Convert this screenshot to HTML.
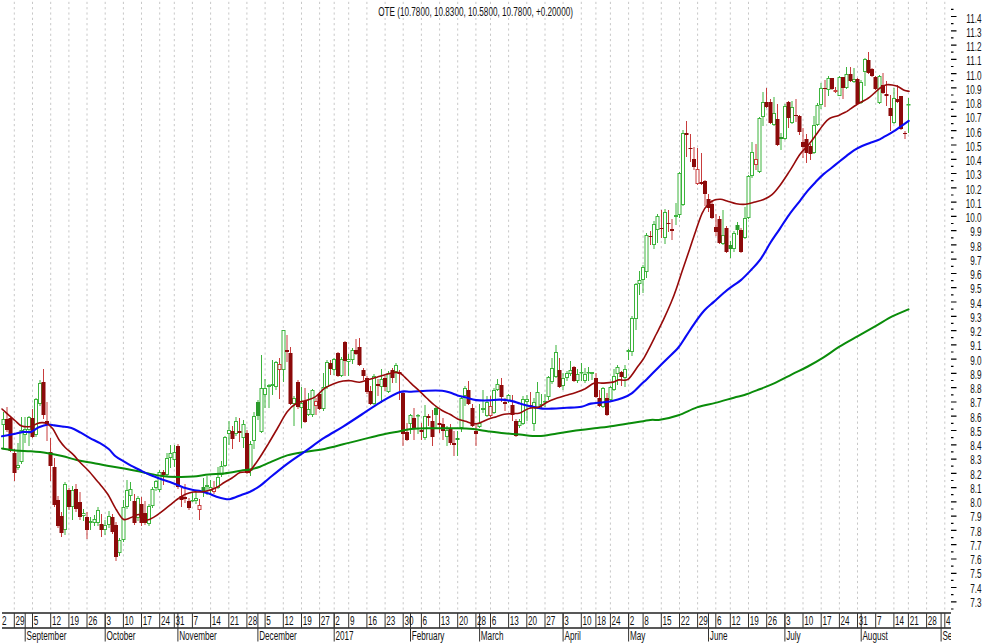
<!DOCTYPE html><html><head><meta charset="utf-8"><style>html,body{margin:0;padding:0;background:#fff;}svg{display:block;font-family:"Liberation Sans",sans-serif;}</style></head><body>
<svg width="986" height="644" viewBox="0 0 986 644">
<rect width="986" height="644" fill="#fff"/>
<path d="M14.3 1.8V611M32.5 1.8V611M50.7 1.8V611M68.9 1.8V611M87.0 1.8V611M105.2 1.8V611M123.4 1.8V611M141.5 1.8V611M159.7 1.8V611M174.3 1.8V611M192.4 1.8V611M210.6 1.8V611M228.8 1.8V611M246.9 1.8V611M265.1 1.8V611M283.3 1.8V611M301.5 1.8V611M319.6 1.8V611M334.2 1.8V611M348.7 1.8V611M366.9 1.8V611M385.1 1.8V611M403.2 1.8V611M421.4 1.8V611M439.6 1.8V611M457.7 1.8V611M475.9 1.8V611M490.5 1.8V611M508.6 1.8V611M526.8 1.8V611M545.0 1.8V611M563.1 1.8V611M581.3 1.8V611M595.9 1.8V611M610.4 1.8V611M628.6 1.8V611M643.1 1.8V611M661.3 1.8V611M679.5 1.8V611M697.6 1.8V611M715.8 1.8V611M730.3 1.8V611M748.5 1.8V611M766.7 1.8V611M784.9 1.8V611M803.0 1.8V611M821.2 1.8V611M839.4 1.8V611M857.5 1.8V611M875.7 1.8V611M893.9 1.8V611M908.4 1.8V611M926.6 1.8V611M944.8 1.8V611" stroke="#c8c8c8" stroke-width="1" stroke-dasharray="2.2 3.113" fill="none"/>
<path d="M951 16.5H956.5M951 30.8H956.5M951 45.1H956.5M951 59.3H956.5M951 73.6H956.5M951 87.9H956.5M951 102.2H956.5M951 116.4H956.5M951 130.7H956.5M951 145.0H956.5M951 159.3H956.5M951 173.5H956.5M951 187.8H956.5M951 202.1H956.5M951 216.4H956.5M951 230.6H956.5M951 244.9H956.5M951 259.2H956.5M951 273.5H956.5M951 287.7H956.5M951 302.0H956.5M951 316.3H956.5M951 330.6H956.5M951 344.8H956.5M951 359.1H956.5M951 373.4H956.5M951 387.7H956.5M951 402.0H956.5M951 416.2H956.5M951 430.5H956.5M951 444.8H956.5M951 459.1H956.5M951 473.3H956.5M951 487.6H956.5M951 501.9H956.5M951 516.2H956.5M951 530.4H956.5M951 544.7H956.5M951 559.0H956.5M951 573.3H956.5M951 587.5H956.5M951 601.8H956.5M951 9.4H953.5M951 23.6H953.5M951 37.9H953.5M951 52.2H953.5M951 66.5H953.5M951 80.7H953.5M951 95.0H953.5M951 109.3H953.5M951 123.6H953.5M951 137.8H953.5M951 152.1H953.5M951 166.4H953.5M951 180.7H953.5M951 195.0H953.5M951 209.2H953.5M951 223.5H953.5M951 237.8H953.5M951 252.1H953.5M951 266.3H953.5M951 280.6H953.5M951 294.9H953.5M951 309.2H953.5M951 323.4H953.5M951 337.7H953.5M951 352.0H953.5M951 366.3H953.5M951 380.5H953.5M951 394.8H953.5M951 409.1H953.5M951 423.4H953.5M951 437.6H953.5M951 451.9H953.5M951 466.2H953.5M951 480.5H953.5M951 494.7H953.5M951 509.0H953.5M951 523.3H953.5M951 537.6H953.5M951 551.8H953.5M951 566.1H953.5M951 580.4H953.5M951 594.7H953.5M951 609.0H953.5" stroke="#000" stroke-width="1.2" fill="none"/>
<g transform="translate(981.5,0) scale(0.68,1)" font-size="12" fill="#111" text-anchor="end"><text x="0" y="22.7">11.4</text><text x="0" y="36.9">11.3</text><text x="0" y="51.2">11.2</text><text x="0" y="65.4">11.1</text><text x="0" y="79.7">11.0</text><text x="0" y="93.9">10.9</text><text x="0" y="108.2">10.8</text><text x="0" y="122.4">10.7</text><text x="0" y="136.7">10.6</text><text x="0" y="150.9">10.5</text><text x="0" y="165.2">10.4</text><text x="0" y="179.4">10.3</text><text x="0" y="193.7">10.2</text><text x="0" y="207.9">10.1</text><text x="0" y="222.2">10.0</text><text x="0" y="236.4">9.9</text><text x="0" y="250.6">9.8</text><text x="0" y="264.9">9.7</text><text x="0" y="279.1">9.6</text><text x="0" y="293.4">9.5</text><text x="0" y="307.6">9.4</text><text x="0" y="321.9">9.3</text><text x="0" y="336.1">9.2</text><text x="0" y="350.4">9.1</text><text x="0" y="364.6">9.0</text><text x="0" y="378.9">8.9</text><text x="0" y="393.1">8.8</text><text x="0" y="407.4">8.7</text><text x="0" y="421.6">8.6</text><text x="0" y="435.9">8.5</text><text x="0" y="450.1">8.4</text><text x="0" y="464.3">8.3</text><text x="0" y="478.6">8.2</text><text x="0" y="492.8">8.1</text><text x="0" y="507.1">8.0</text><text x="0" y="521.3">7.9</text><text x="0" y="535.6">7.8</text><text x="0" y="549.8">7.7</text><text x="0" y="564.1">7.6</text><text x="0" y="578.3">7.5</text><text x="0" y="592.6">7.4</text><text x="0" y="606.8">7.3</text></g>
<path d="M2 613H951M2 628H951" stroke="#222" stroke-width="1.3" fill="none"/>
<path d="M14.3 613V628M32.5 613V628M50.7 613V628M68.9 613V628M87.0 613V628M105.2 613V628M123.4 613V628M141.5 613V628M159.7 613V628M174.3 613V628M192.4 613V628M210.6 613V628M228.8 613V628M246.9 613V628M265.1 613V628M283.3 613V628M301.5 613V628M319.6 613V628M334.2 613V628M348.7 613V628M366.9 613V628M385.1 613V628M403.2 613V628M421.4 613V628M439.6 613V628M457.7 613V628M475.9 613V628M490.5 613V628M508.6 613V628M526.8 613V628M545.0 613V628M563.1 613V628M581.3 613V628M595.9 613V628M610.4 613V628M628.6 613V628M643.1 613V628M661.3 613V628M679.5 613V628M697.6 613V628M715.8 613V628M730.3 613V628M748.5 613V628M766.7 613V628M784.9 613V628M803.0 613V628M821.2 613V628M839.4 613V628M857.5 613V628M875.7 613V628M893.9 613V628M908.4 613V628M926.6 613V628M944.8 613V628M25.2 613V641.5M105.2 613V641.5M177.9 613V641.5M257.9 613V641.5M334.2 613V641.5M410.5 613V641.5M479.6 613V641.5M563.1 613V641.5M628.6 613V641.5M708.5 613V641.5M784.9 613V641.5M861.2 613V641.5M941.1 613V641.5" stroke="#333" stroke-width="1" fill="none"/>
<svg x="0" y="600" width="951" height="44" viewBox="0 600 951 44"><g transform="scale(0.68,1)" font-size="12" fill="#111"><text x="2.8" y="625">2</text><text x="22.9" y="625">29</text><text x="49.6" y="625">5</text><text x="76.3" y="625">12</text><text x="103.0" y="625">19</text><text x="129.8" y="625">26</text><text x="156.5" y="625">3</text><text x="183.2" y="625">10</text><text x="209.9" y="625">17</text><text x="236.6" y="625">24</text><text x="258.0" y="625">31</text><text x="284.7" y="625">7</text><text x="311.5" y="625">14</text><text x="338.2" y="625">21</text><text x="364.9" y="625">28</text><text x="391.6" y="625">5</text><text x="418.4" y="625">12</text><text x="445.1" y="625">19</text><text x="471.8" y="625">27</text><text x="493.2" y="625">2</text><text x="514.6" y="625">9</text><text x="541.3" y="625">16</text><text x="568.0" y="625">23</text><text x="594.7" y="625">30</text><text x="621.5" y="625">6</text><text x="648.2" y="625">13</text><text x="674.9" y="625">20</text><text x="701.6" y="625">28</text><text x="723.0" y="625">6</text><text x="749.7" y="625">13</text><text x="776.5" y="625">20</text><text x="803.2" y="625">27</text><text x="829.9" y="625">3</text><text x="856.6" y="625">10</text><text x="878.0" y="625">18</text><text x="899.4" y="625">24</text><text x="926.1" y="625">2</text><text x="947.5" y="625">8</text><text x="974.2" y="625">15</text><text x="1001.0" y="625">22</text><text x="1027.7" y="625">29</text><text x="1054.4" y="625">6</text><text x="1075.8" y="625">12</text><text x="1102.5" y="625">19</text><text x="1129.2" y="625">26</text><text x="1156.0" y="625">3</text><text x="1182.7" y="625">10</text><text x="1209.4" y="625">17</text><text x="1236.1" y="625">24</text><text x="1262.9" y="625">31</text><text x="1289.6" y="625">7</text><text x="1316.3" y="625">14</text><text x="1337.7" y="625">21</text><text x="1364.4" y="625">28</text><text x="1391.1" y="625">4</text><text x="39.0" y="640">September</text><text x="156.6" y="640">October</text><text x="263.5" y="640">November</text><text x="381.1" y="640">December</text><text x="493.3" y="640">2017</text><text x="605.6" y="640">February</text><text x="707.1" y="640">March</text><text x="830.1" y="640">April</text><text x="926.3" y="640">May</text><text x="1043.9" y="640">June</text><text x="1156.1" y="640">July</text><text x="1268.3" y="640">August</text><text x="1385.9" y="640">September</text></g></svg>
<rect x="377" y="5" width="198" height="12.5" fill="#fff"/>
<g transform="translate(475.6,0) scale(0.68,1)" font-size="12" fill="#111" text-anchor="middle"><text x="0" y="15.8">OTE (10.7800, 10.8300, 10.5800, 10.7800, +0.20000)</text></g>
<path d="M3.5 412.0V419.0M3.5 425.0V448.0M18.0 443.0V465.0M18.0 468.0V470.0M21.5 417.0V430.0M21.5 462.0V464.0M25.0 417.0V429.0M25.0 435.0V443.0M29.0 416.0V417.0M29.0 430.0V446.0M36.0 398.0V399.0M36.0 435.0V437.0M40.0 380.0V383.0M40.0 404.0V406.0M65.0 482.0V484.0M65.0 530.0V535.0M72.5 486.0V490.0M72.5 507.0V520.0M83.5 509.0V513.0M83.5 516.0V521.0M90.5 517.0V521.0M90.5 523.0V530.0M94.5 515.0V519.0M94.5 523.0V526.0M98.0 507.0V510.0M98.0 523.0V526.0M105.0 520.0V525.0M105.0 530.0V535.0M109.0 511.0V516.0M109.0 525.0V528.0M119.5 538.0V540.0M119.5 553.0V556.0M123.5 500.0V507.0M123.5 540.0V542.0M127.0 480.0V490.0M127.0 507.0V509.0M130.5 482.0V489.0M130.5 496.0V501.0M138.0 496.0V498.0M138.0 518.0V521.0M149.0 504.0V506.0M149.0 524.0V526.0M152.5 487.0V489.0M152.5 506.0V508.0M156.0 480.0V481.0M156.0 488.0V491.0M159.5 470.0V472.0M159.5 490.0V492.0M167.0 453.0V458.0M167.0 475.0V477.0M170.5 445.0V453.0M170.5 458.0V468.0M174.5 445.0V452.0M174.5 460.0V467.0M192.5 493.0V500.0M192.5 501.0V502.0M196.0 492.0V498.0M196.0 501.0V504.0M203.5 478.0V487.0M203.5 491.0V497.0M207.0 476.0V485.0M207.0 487.0V495.0M210.5 480.0V487.0M210.5 491.0V494.0M218.0 467.0V477.0M218.0 488.0V489.0M221.5 461.0V466.0M221.5 475.0V477.0M225.0 436.0V437.0M225.0 466.0V467.0M229.0 421.0V430.0M229.0 434.0V445.0M236.0 417.0V421.0M236.0 434.0V436.0M243.5 420.0V424.0M243.5 438.0V448.0M250.5 441.0V444.0M250.5 471.0V476.0M254.0 412.0V416.0M254.0 441.0V449.0M258.0 400.0V402.0M258.0 416.0V420.0M261.5 355.0V388.0M261.5 432.0V433.0M265.0 379.0V388.0M265.0 395.0V408.0M269.0 384.0V385.0M269.0 387.0V408.0M272.5 360.0V384.0M272.5 386.0V395.0M276.0 361.0V362.0M276.0 387.0V390.0M283.5 330.0V330.0M283.5 370.0V382.0M294.0 396.0V398.0M294.0 404.0V426.0M301.5 387.0V403.0M301.5 408.0V428.0M308.5 393.0V409.0M308.5 415.0V416.0M312.5 389.0V390.0M312.5 415.0V417.0M323.5 373.0V387.0M323.5 409.0V411.0M327.0 360.0V362.0M327.0 387.0V389.0M334.0 358.0V359.0M334.0 370.0V375.0M341.5 357.0V359.0M341.5 376.0V377.0M348.5 354.0V359.0M348.5 362.0V376.0M352.5 348.0V350.0M352.5 360.0V364.0M374.0 374.0V376.0M374.0 404.0V405.0M381.5 369.0V379.0M381.5 387.0V403.0M388.5 371.0V373.0M388.5 392.0V393.0M396.0 363.0V365.0M396.0 372.0V383.0M410.5 414.0V415.0M410.5 424.0V434.0M418.0 414.0V415.0M418.0 416.0V434.0M425.0 405.0V416.0M425.0 438.0V440.0M436.0 406.0V408.0M436.0 415.0V428.0M447.0 426.0V430.0M447.0 437.0V446.0M457.5 431.0V438.0M457.5 440.0V456.0M461.5 396.0V398.0M461.5 428.0V432.0M465.0 386.0V388.0M465.0 396.0V406.0M479.5 404.0V423.0M479.5 427.0V428.0M483.0 390.0V408.0M483.0 410.0V413.0M487.0 396.0V402.0M487.0 416.0V417.0M494.0 388.0V390.0M494.0 413.0V414.0M497.5 379.0V384.0M497.5 390.0V391.0M508.5 394.0V395.0M508.5 401.0V403.0M519.5 419.0V421.0M519.5 426.0V428.0M523.0 396.0V399.0M523.0 424.0V425.0M527.0 395.0V399.0M527.0 402.0V421.0M534.0 398.0V402.0M534.0 424.0V431.0M537.5 382.0V392.0M537.5 408.0V409.0M541.5 394.0V404.0M541.5 406.0V408.0M545.0 394.0V401.0M545.0 402.0V407.0M548.5 376.0V377.0M548.5 397.0V400.0M552.0 358.0V368.0M552.0 382.0V384.0M556.0 345.0V352.0M556.0 377.0V378.0M563.0 373.0V378.0M563.0 386.0V390.0M567.0 371.0V373.0M567.0 378.0V381.0M570.5 361.0V370.0M570.5 374.0V376.0M577.5 369.0V374.0M577.5 381.0V383.0M581.5 363.0V372.0M581.5 373.0V381.0M585.0 368.0V374.0M585.0 381.0V383.0M588.5 367.0V372.0M588.5 373.0V381.0M592.0 372.0V372.0M592.0 374.0V380.0M603.0 387.0V388.0M603.0 407.0V408.0M610.5 386.0V387.0M610.5 400.0V401.0M614.0 369.0V376.0M614.0 390.0V391.0M617.5 365.0V367.0M617.5 374.0V385.0M625.0 365.0V369.0M625.0 378.0V387.0M628.5 349.0V350.0M628.5 352.0V360.0M632.0 316.0V318.0M632.0 352.0V356.0M636.0 283.0V284.0M636.0 319.0V330.0M639.5 271.0V280.0M639.5 284.0V295.0M643.0 265.0V267.0M643.0 280.0V293.0M646.5 233.0V235.0M646.5 272.0V278.0M654.0 221.0V224.0M654.0 245.0V249.0M657.5 214.0V216.0M657.5 230.0V243.0M665.0 209.0V212.0M665.0 238.0V244.0M676.0 203.0V215.0M676.0 217.0V225.0M679.5 172.0V173.0M679.5 215.0V218.0M683.0 130.0V133.0M683.0 205.0V206.0M723.0 210.0V235.0M723.0 244.0V245.0M730.5 241.0V245.0M730.5 249.0V258.0M734.0 231.0V233.0M734.0 249.0V252.0M737.5 222.0V225.0M737.5 230.0V235.0M745.0 207.0V218.0M745.0 238.0V239.0M763.0 92.0V102.0M763.0 117.0V126.0M774.0 97.0V113.0M774.0 125.0V126.0M781.0 133.0V137.0M781.0 139.0V150.0M785.0 104.0V106.0M785.0 139.0V140.0M792.0 101.0V107.0M792.0 123.0V124.0M814.0 116.0V125.0M814.0 153.0V154.0M817.5 103.0V105.0M817.5 125.0V126.0M821.0 83.0V88.0M821.0 105.0V109.0M748.5 175.0V176.0M748.5 218.0V219.0M752.0 142.0V152.0M752.0 176.0V178.0M759.5 117.0V118.0M759.5 172.0V173.0M828.5 76.0V78.0M828.5 90.0V96.0M839.5 76.0V77.0M839.5 96.0V96.0M846.5 67.0V74.0M846.5 88.0V89.0M854.0 68.0V79.0M854.0 82.0V83.0M861.0 80.0V82.0M861.0 103.0V104.0M865.0 58.0V59.0M865.0 72.0V86.0M879.5 75.0V76.0M879.5 103.0V104.0M894.0 88.0V98.0M894.0 123.0V124.0M908.5 98.0V104.0M908.5 105.0V133.0" stroke="#3cb43c" stroke-width="1" fill="none"/>
<path d="M7.0 407.0V419.0M7.0 430.0V432.0M10.5 416.0V418.0M10.5 451.0V452.0M14.5 449.0V453.0M14.5 473.0V481.0M32.5 409.0V418.0M32.5 437.0V438.0M43.5 369.0V382.0M43.5 415.0V419.0M47.0 402.0V421.0M47.0 424.0V441.0M50.5 438.0V452.0M50.5 466.0V481.0M54.5 458.0V467.0M54.5 505.0V507.0M58.0 496.0V500.0M58.0 526.0V528.0M61.5 512.0V516.0M61.5 533.0V537.0M69.0 488.0V490.0M69.0 507.0V510.0M76.0 484.0V489.0M76.0 509.0V512.0M80.0 492.0V502.0M80.0 517.0V520.0M87.0 512.0V517.0M87.0 530.0V539.0M101.5 514.0V524.0M101.5 530.0V537.0M112.5 514.0V517.0M112.5 532.0V534.0M116.0 522.0V525.0M116.0 557.0V561.0M134.5 494.0V501.0M134.5 523.0V525.0M141.5 497.0V504.0M141.5 523.0V526.0M145.0 501.0V513.0M145.0 523.0V525.0M163.5 470.0V472.0M163.5 475.0V485.0M178.0 444.0V446.0M178.0 487.0V489.0M181.5 488.0V496.0M181.5 500.0V507.0M185.0 484.0V497.0M185.0 499.0V503.0M189.0 498.0V501.0M189.0 508.0V510.0M199.5 499.0V505.0M199.5 510.0V520.0M214.0 481.0V488.0M214.0 492.0V494.0M232.5 426.0V431.0M232.5 439.0V449.0M239.5 418.0V431.0M239.5 433.0V442.0M247.0 430.0V433.0M247.0 473.0V474.0M279.5 358.0V364.0M279.5 370.0V399.0M287.0 335.0V350.0M287.0 352.0V362.0M290.5 347.0V353.0M290.5 404.0V405.0M298.0 380.0V382.0M298.0 407.0V409.0M305.0 388.0V401.0M305.0 422.0V423.0M316.0 398.0V401.0M316.0 406.0V415.0M319.5 392.0V394.0M319.5 409.0V410.0M330.5 360.0V363.0M330.5 369.0V375.0M338.0 352.0V353.0M338.0 376.0V377.0M345.0 341.0V342.0M345.0 361.0V376.0M356.0 339.0V350.0M356.0 354.0V355.0M359.5 338.0V347.0M359.5 365.0V366.0M363.5 368.0V370.0M363.5 376.0V380.0M367.0 376.0V378.0M367.0 392.0V394.0M370.5 386.0V391.0M370.5 404.0V405.0M378.0 379.0V384.0M378.0 386.0V396.0M385.0 376.0V378.0M385.0 387.0V391.0M392.5 368.0V370.0M392.5 378.0V383.0M399.5 370.0V372.0M399.5 374.0V400.0M403.0 392.0V393.0M403.0 434.0V446.0M407.0 423.0V432.0M407.0 440.0V441.0M414.0 408.0V418.0M414.0 429.0V440.0M421.5 423.0V430.0M421.5 432.0V440.0M428.5 414.0V416.0M428.5 418.0V426.0M432.5 410.0V421.0M432.5 437.0V446.0M439.5 410.0V423.0M439.5 425.0V433.0M443.0 418.0V424.0M443.0 431.0V440.0M450.5 424.0V429.0M450.5 443.0V445.0M454.0 431.0V443.0M454.0 445.0V456.0M468.5 381.0V390.0M468.5 404.0V405.0M472.5 404.0V408.0M472.5 426.0V427.0M476.0 423.0V431.0M476.0 434.0V446.0M490.5 396.0V406.0M490.5 416.0V417.0M501.5 378.0V385.0M501.5 397.0V402.0M505.0 398.0V402.0M505.0 404.0V411.0M512.5 395.0V405.0M512.5 415.0V421.0M516.0 419.0V421.0M516.0 436.0V437.0M530.5 392.0V405.0M530.5 407.0V408.0M559.5 358.0V370.0M559.5 387.0V388.0M574.0 366.0V367.0M574.0 381.0V382.0M596.0 373.0V378.0M596.0 397.0V398.0M599.5 390.0V398.0M599.5 406.0V407.0M607.0 393.0V398.0M607.0 415.0V416.0M621.5 371.0V372.0M621.5 377.0V386.0M650.5 231.0V236.0M650.5 237.0V245.0M661.5 210.0V228.0M661.5 229.0V238.0M668.5 210.0V223.0M668.5 224.0V232.0M672.0 219.0V229.0M672.0 231.0V240.0M686.5 121.0V133.0M686.5 135.0V157.0M690.5 134.0V148.0M690.5 149.0V162.0M694.0 147.0V159.0M694.0 167.0V170.0M697.5 148.0V169.0M697.5 184.0V185.0M701.5 153.0V182.0M701.5 184.0V185.0M705.0 180.0V181.0M705.0 194.0V206.0M708.5 194.0V199.0M708.5 208.0V212.0M712.0 200.0V204.0M712.0 218.0V219.0M716.0 214.0V227.0M716.0 232.0V236.0M719.5 216.0V219.0M719.5 243.0V244.0M726.5 226.0V228.0M726.5 252.0V253.0M741.0 228.0V230.0M741.0 252.0V253.0M756.0 144.0V159.0M756.0 165.0V170.0M766.5 88.0V102.0M766.5 107.0V108.0M770.5 99.0V102.0M770.5 123.0V124.0M777.5 104.0V119.0M777.5 145.0V146.0M788.5 101.0V102.0M788.5 118.0V128.0M796.0 99.0V115.0M796.0 116.0V122.0M799.5 115.0V116.0M799.5 132.0V135.0M803.0 128.0V142.0M803.0 147.0V158.0M806.5 134.0V139.0M806.5 153.0V163.0M810.5 144.0V146.0M810.5 154.0V160.0M825.0 80.0V88.0M825.0 89.0V107.0M832.0 78.0V78.0M832.0 89.0V90.0M835.5 87.0V90.0M835.5 92.0V93.0M843.0 77.0V77.0M843.0 88.0V99.0M850.5 67.0V74.0M850.5 81.0V82.0M857.5 78.0V79.0M857.5 104.0V105.0M868.5 52.0V60.0M868.5 73.0V74.0M872.0 68.0V69.0M872.0 76.0V77.0M875.5 76.0V77.0M875.5 89.0V90.0M883.0 73.0V85.0M883.0 93.0V94.0M886.5 81.0V94.0M886.5 96.0V106.0M890.5 95.0V108.0M890.5 116.0V131.0M897.5 85.0V99.0M897.5 102.0V103.0M901.0 96.0V96.0M901.0 129.0V130.0M905.0 131.0V133.0M905.0 134.0V139.0" stroke="#c83c3c" stroke-width="1" fill="none"/>
<g fill="#fff" stroke="#3cb43c" stroke-width="1"><rect x="2.0" y="419.5" width="3.0" height="5.0"/><rect x="16.5" y="465.5" width="3.0" height="2.0"/><rect x="20.0" y="430.5" width="3.0" height="31.0"/><rect x="23.5" y="429.5" width="3.0" height="5.0"/><rect x="27.5" y="417.5" width="3.0" height="12.0"/><rect x="34.5" y="399.5" width="3.0" height="35.0"/><rect x="38.5" y="383.5" width="3.0" height="20.0"/><rect x="63.5" y="484.5" width="3.0" height="45.0"/><rect x="71.0" y="490.5" width="3.0" height="16.0"/><rect x="82.0" y="513.5" width="3.0" height="2.0"/><rect x="89.0" y="521.5" width="3.0" height="1.0"/><rect x="93.0" y="519.5" width="3.0" height="3.0"/><rect x="96.5" y="510.5" width="3.0" height="12.0"/><rect x="103.5" y="525.5" width="3.0" height="4.0"/><rect x="107.5" y="516.5" width="3.0" height="8.0"/><rect x="118.0" y="540.5" width="3.0" height="12.0"/><rect x="122.0" y="507.5" width="3.0" height="32.0"/><rect x="125.5" y="490.5" width="3.0" height="16.0"/><rect x="129.0" y="489.5" width="3.0" height="6.0"/><rect x="136.5" y="498.5" width="3.0" height="19.0"/><rect x="147.5" y="506.5" width="3.0" height="17.0"/><rect x="151.0" y="489.5" width="3.0" height="16.0"/><rect x="154.5" y="481.5" width="3.0" height="6.0"/><rect x="158.0" y="472.5" width="3.0" height="17.0"/><rect x="165.5" y="458.5" width="3.0" height="16.0"/><rect x="169.0" y="453.5" width="3.0" height="4.0"/><rect x="173.0" y="452.5" width="3.0" height="7.0"/><rect x="191.0" y="500.5" width="3.0" height="0.5"/><rect x="194.5" y="498.5" width="3.0" height="2.0"/><rect x="205.5" y="485.5" width="3.0" height="1.0"/><rect x="209.0" y="487.5" width="3.0" height="3.0"/><rect x="216.5" y="477.5" width="3.0" height="10.0"/><rect x="220.0" y="466.5" width="3.0" height="8.0"/><rect x="223.5" y="437.5" width="3.0" height="28.0"/><rect x="227.5" y="430.5" width="3.0" height="3.0"/><rect x="234.5" y="421.5" width="3.0" height="12.0"/><rect x="242.0" y="424.5" width="3.0" height="13.0"/><rect x="249.0" y="444.5" width="3.0" height="26.0"/><rect x="252.5" y="416.5" width="3.0" height="24.0"/><rect x="260.0" y="388.5" width="3.0" height="43.0"/><rect x="263.5" y="388.5" width="3.0" height="6.0"/><rect x="267.5" y="385.5" width="3.0" height="1.0"/><rect x="271.0" y="384.5" width="3.0" height="1.0"/><rect x="274.5" y="362.5" width="3.0" height="24.0"/><rect x="282.0" y="330.5" width="3.0" height="39.0"/><rect x="292.5" y="398.5" width="3.0" height="5.0"/><rect x="300.0" y="403.5" width="3.0" height="4.0"/><rect x="307.0" y="409.5" width="3.0" height="5.0"/><rect x="311.0" y="390.5" width="3.0" height="24.0"/><rect x="322.0" y="387.5" width="3.0" height="21.0"/><rect x="325.5" y="362.5" width="3.0" height="24.0"/><rect x="332.5" y="359.5" width="3.0" height="10.0"/><rect x="340.0" y="359.5" width="3.0" height="16.0"/><rect x="347.0" y="359.5" width="3.0" height="2.0"/><rect x="351.0" y="350.5" width="3.0" height="9.0"/><rect x="372.5" y="376.5" width="3.0" height="27.0"/><rect x="380.0" y="379.5" width="3.0" height="7.0"/><rect x="387.0" y="373.5" width="3.0" height="18.0"/><rect x="394.5" y="365.5" width="3.0" height="6.0"/><rect x="409.0" y="415.5" width="3.0" height="8.0"/><rect x="416.5" y="415.5" width="3.0" height="0.5"/><rect x="423.5" y="416.5" width="3.0" height="21.0"/><rect x="445.5" y="430.5" width="3.0" height="6.0"/><rect x="460.0" y="398.5" width="3.0" height="29.0"/><rect x="463.5" y="388.5" width="3.0" height="7.0"/><rect x="478.0" y="423.5" width="3.0" height="3.0"/><rect x="481.5" y="408.5" width="3.0" height="1.0"/><rect x="485.5" y="402.5" width="3.0" height="13.0"/><rect x="492.5" y="390.5" width="3.0" height="22.0"/><rect x="496.0" y="384.5" width="3.0" height="5.0"/><rect x="507.0" y="395.5" width="3.0" height="5.0"/><rect x="518.0" y="421.5" width="3.0" height="4.0"/><rect x="521.5" y="399.5" width="3.0" height="24.0"/><rect x="525.5" y="399.5" width="3.0" height="2.0"/><rect x="532.5" y="402.5" width="3.0" height="21.0"/><rect x="536.0" y="392.5" width="3.0" height="15.0"/><rect x="540.0" y="404.5" width="3.0" height="1.0"/><rect x="543.5" y="401.5" width="3.0" height="0.5"/><rect x="547.0" y="377.5" width="3.0" height="19.0"/><rect x="550.5" y="368.5" width="3.0" height="13.0"/><rect x="554.5" y="352.5" width="3.0" height="24.0"/><rect x="561.5" y="378.5" width="3.0" height="7.0"/><rect x="565.5" y="373.5" width="3.0" height="4.0"/><rect x="569.0" y="370.5" width="3.0" height="3.0"/><rect x="576.0" y="374.5" width="3.0" height="6.0"/><rect x="580.0" y="372.5" width="3.0" height="0.5"/><rect x="583.5" y="374.5" width="3.0" height="6.0"/><rect x="587.0" y="372.5" width="3.0" height="0.5"/><rect x="590.5" y="372.5" width="3.0" height="1.0"/><rect x="601.5" y="388.5" width="3.0" height="18.0"/><rect x="609.0" y="387.5" width="3.0" height="12.0"/><rect x="612.5" y="376.5" width="3.0" height="13.0"/><rect x="616.0" y="367.5" width="3.0" height="6.0"/><rect x="623.5" y="369.5" width="3.0" height="8.0"/><rect x="627.0" y="350.5" width="3.0" height="1.0"/><rect x="630.5" y="318.5" width="3.0" height="33.0"/><rect x="634.5" y="284.5" width="3.0" height="34.0"/><rect x="638.0" y="280.5" width="3.0" height="3.0"/><rect x="641.5" y="267.5" width="3.0" height="12.0"/><rect x="645.0" y="235.5" width="3.0" height="36.0"/><rect x="652.5" y="224.5" width="3.0" height="20.0"/><rect x="656.0" y="216.5" width="3.0" height="13.0"/><rect x="663.5" y="212.5" width="3.0" height="25.0"/><rect x="674.5" y="215.5" width="3.0" height="1.0"/><rect x="678.0" y="173.5" width="3.0" height="41.0"/><rect x="681.5" y="133.5" width="3.0" height="71.0"/><rect x="721.5" y="235.5" width="3.0" height="8.0"/><rect x="732.5" y="233.5" width="3.0" height="15.0"/><rect x="743.5" y="218.5" width="3.0" height="19.0"/><rect x="761.5" y="102.5" width="3.0" height="14.0"/><rect x="772.5" y="113.5" width="3.0" height="11.0"/><rect x="783.5" y="106.5" width="3.0" height="32.0"/><rect x="790.5" y="107.5" width="3.0" height="15.0"/><rect x="812.5" y="125.5" width="3.0" height="27.0"/><rect x="816.0" y="105.5" width="3.0" height="19.0"/><rect x="819.5" y="88.5" width="3.0" height="16.0"/><rect x="747.0" y="176.5" width="3.0" height="41.0"/><rect x="750.5" y="152.5" width="3.0" height="23.0"/><rect x="758.0" y="118.5" width="3.0" height="53.0"/><rect x="827.0" y="78.5" width="3.0" height="11.0"/><rect x="838.0" y="77.5" width="3.0" height="18.0"/><rect x="845.0" y="74.5" width="3.0" height="13.0"/><rect x="852.5" y="79.5" width="3.0" height="2.0"/><rect x="859.5" y="82.5" width="3.0" height="20.0"/><rect x="863.5" y="59.5" width="3.0" height="12.0"/><rect x="878.0" y="76.5" width="3.0" height="26.0"/><rect x="892.5" y="98.5" width="3.0" height="24.0"/><rect x="907.0" y="104.5" width="3.0" height="0.5"/></g>
<g fill="#2a9a2a"><rect x="201.5" y="487.0" width="4.0" height="4.0"/><rect x="256.0" y="402.0" width="4.0" height="14.0"/><rect x="434.0" y="408.0" width="4.0" height="7.0"/><rect x="455.5" y="438.0" width="4.0" height="2.0"/><rect x="728.5" y="245.0" width="4.0" height="4.0"/><rect x="735.5" y="225.0" width="4.0" height="5.0"/><rect x="779.0" y="137.0" width="4.0" height="2.0"/></g>
<g fill="#fff" stroke="#c83c3c" stroke-width="1"><rect x="198.0" y="505.5" width="3.0" height="4.0"/><rect x="212.5" y="488.5" width="3.0" height="3.0"/><rect x="278.0" y="364.5" width="3.0" height="5.0"/><rect x="314.5" y="401.5" width="3.0" height="4.0"/><rect x="489.0" y="406.5" width="3.0" height="9.0"/><rect x="696.0" y="169.5" width="3.0" height="14.0"/><rect x="754.5" y="159.5" width="3.0" height="5.0"/><rect x="834.0" y="90.5" width="3.0" height="1.0"/></g>
<g fill="#8c0a0a"><rect x="5.0" y="419.0" width="4.0" height="11.0"/><rect x="8.5" y="418.0" width="4.0" height="33.0"/><rect x="12.5" y="453.0" width="4.0" height="20.0"/><rect x="30.5" y="418.0" width="4.0" height="19.0"/><rect x="41.5" y="382.0" width="4.0" height="33.0"/><rect x="45.0" y="421.0" width="4.0" height="3.0"/><rect x="48.5" y="452.0" width="4.0" height="14.0"/><rect x="52.5" y="467.0" width="4.0" height="38.0"/><rect x="56.0" y="500.0" width="4.0" height="26.0"/><rect x="59.5" y="516.0" width="4.0" height="17.0"/><rect x="67.0" y="490.0" width="4.0" height="17.0"/><rect x="74.0" y="489.0" width="4.0" height="20.0"/><rect x="78.0" y="502.0" width="4.0" height="15.0"/><rect x="85.0" y="517.0" width="4.0" height="13.0"/><rect x="99.5" y="524.0" width="4.0" height="6.0"/><rect x="110.5" y="517.0" width="4.0" height="15.0"/><rect x="114.0" y="525.0" width="4.0" height="32.0"/><rect x="132.5" y="501.0" width="4.0" height="22.0"/><rect x="139.5" y="504.0" width="4.0" height="19.0"/><rect x="143.0" y="513.0" width="4.0" height="10.0"/><rect x="161.5" y="472.0" width="4.0" height="3.0"/><rect x="176.0" y="446.0" width="4.0" height="41.0"/><rect x="179.5" y="496.0" width="4.0" height="4.0"/><rect x="183.0" y="497.0" width="4.0" height="2.0"/><rect x="187.0" y="501.0" width="4.0" height="7.0"/><rect x="230.5" y="431.0" width="4.0" height="8.0"/><rect x="237.5" y="431.0" width="4.0" height="2.0"/><rect x="245.0" y="433.0" width="4.0" height="40.0"/><rect x="285.0" y="350.0" width="4.0" height="2.0"/><rect x="288.5" y="353.0" width="4.0" height="51.0"/><rect x="296.0" y="382.0" width="4.0" height="25.0"/><rect x="303.0" y="401.0" width="4.0" height="21.0"/><rect x="317.5" y="394.0" width="4.0" height="15.0"/><rect x="328.5" y="363.0" width="4.0" height="6.0"/><rect x="336.0" y="353.0" width="4.0" height="23.0"/><rect x="343.0" y="342.0" width="4.0" height="19.0"/><rect x="354.0" y="350.0" width="4.0" height="4.0"/><rect x="357.5" y="347.0" width="4.0" height="18.0"/><rect x="361.5" y="370.0" width="4.0" height="6.0"/><rect x="365.0" y="378.0" width="4.0" height="14.0"/><rect x="368.5" y="391.0" width="4.0" height="13.0"/><rect x="376.0" y="384.0" width="4.0" height="2.0"/><rect x="383.0" y="378.0" width="4.0" height="9.0"/><rect x="390.5" y="370.0" width="4.0" height="8.0"/><rect x="397.5" y="372.0" width="4.0" height="2.0"/><rect x="401.0" y="393.0" width="4.0" height="41.0"/><rect x="405.0" y="432.0" width="4.0" height="8.0"/><rect x="412.0" y="418.0" width="4.0" height="11.0"/><rect x="419.5" y="430.0" width="4.0" height="2.0"/><rect x="426.5" y="416.0" width="4.0" height="2.0"/><rect x="430.5" y="421.0" width="4.0" height="16.0"/><rect x="437.5" y="423.0" width="4.0" height="2.0"/><rect x="441.0" y="424.0" width="4.0" height="7.0"/><rect x="448.5" y="429.0" width="4.0" height="14.0"/><rect x="452.0" y="443.0" width="4.0" height="2.0"/><rect x="466.5" y="390.0" width="4.0" height="14.0"/><rect x="470.5" y="408.0" width="4.0" height="18.0"/><rect x="474.0" y="431.0" width="4.0" height="3.0"/><rect x="499.5" y="385.0" width="4.0" height="12.0"/><rect x="503.0" y="402.0" width="4.0" height="2.0"/><rect x="510.5" y="405.0" width="4.0" height="10.0"/><rect x="514.0" y="421.0" width="4.0" height="15.0"/><rect x="528.5" y="405.0" width="4.0" height="2.0"/><rect x="557.5" y="370.0" width="4.0" height="17.0"/><rect x="572.0" y="367.0" width="4.0" height="14.0"/><rect x="594.0" y="378.0" width="4.0" height="19.0"/><rect x="597.5" y="398.0" width="4.0" height="8.0"/><rect x="605.0" y="398.0" width="4.0" height="17.0"/><rect x="619.5" y="372.0" width="4.0" height="5.0"/><rect x="648.5" y="236.0" width="4.0" height="1.0"/><rect x="659.5" y="228.0" width="4.0" height="1.0"/><rect x="666.5" y="223.0" width="4.0" height="1.0"/><rect x="670.0" y="229.0" width="4.0" height="2.0"/><rect x="684.5" y="133.0" width="4.0" height="2.0"/><rect x="688.5" y="148.0" width="4.0" height="1.0"/><rect x="692.0" y="159.0" width="4.0" height="8.0"/><rect x="699.5" y="182.0" width="4.0" height="2.0"/><rect x="703.0" y="181.0" width="4.0" height="13.0"/><rect x="706.5" y="199.0" width="4.0" height="9.0"/><rect x="710.0" y="204.0" width="4.0" height="14.0"/><rect x="714.0" y="227.0" width="4.0" height="5.0"/><rect x="717.5" y="219.0" width="4.0" height="24.0"/><rect x="724.5" y="228.0" width="4.0" height="24.0"/><rect x="739.0" y="230.0" width="4.0" height="22.0"/><rect x="764.5" y="102.0" width="4.0" height="5.0"/><rect x="768.5" y="102.0" width="4.0" height="21.0"/><rect x="775.5" y="119.0" width="4.0" height="26.0"/><rect x="786.5" y="102.0" width="4.0" height="16.0"/><rect x="794.0" y="115.0" width="4.0" height="1.0"/><rect x="797.5" y="116.0" width="4.0" height="16.0"/><rect x="801.0" y="142.0" width="4.0" height="5.0"/><rect x="804.5" y="139.0" width="4.0" height="14.0"/><rect x="808.5" y="146.0" width="4.0" height="8.0"/><rect x="823.0" y="88.0" width="4.0" height="1.0"/><rect x="830.0" y="78.0" width="4.0" height="11.0"/><rect x="841.0" y="77.0" width="4.0" height="11.0"/><rect x="848.5" y="74.0" width="4.0" height="7.0"/><rect x="855.5" y="79.0" width="4.0" height="25.0"/><rect x="866.5" y="60.0" width="4.0" height="13.0"/><rect x="870.0" y="69.0" width="4.0" height="7.0"/><rect x="873.5" y="77.0" width="4.0" height="12.0"/><rect x="881.0" y="85.0" width="4.0" height="8.0"/><rect x="884.5" y="94.0" width="4.0" height="2.0"/><rect x="888.5" y="108.0" width="4.0" height="8.0"/><rect x="895.5" y="99.0" width="4.0" height="3.0"/><rect x="899.0" y="96.0" width="4.0" height="33.0"/><rect x="903.0" y="133.0" width="4.0" height="1.0"/></g>
<path d="M2.0 448.6C4.2 448.9 10.7 450.2 15.5 450.6C20.3 451.1 25.8 450.9 31.0 451.3C36.2 451.7 41.4 452.1 46.6 452.9C51.8 453.7 56.9 454.8 62.1 456.0C67.3 457.2 72.4 459.0 77.6 460.2C82.8 461.4 88.0 462.0 93.2 463.0C98.4 464.0 103.5 465.1 108.7 466.0C113.9 466.9 119.0 467.5 124.2 468.4C129.4 469.3 135.7 470.6 139.8 471.5C143.9 472.4 145.3 472.9 149.0 473.6C152.7 474.4 157.3 475.4 162.1 476.0C166.9 476.6 172.4 476.9 177.6 477.0C182.8 477.1 188.0 477.0 193.2 476.6C198.4 476.2 203.5 475.0 208.7 474.5C213.9 474.0 218.8 474.0 224.2 473.4C229.5 472.8 236.5 471.4 240.8 470.7C245.1 470.0 246.8 470.1 250.0 469.4C253.2 468.7 256.9 467.8 260.0 466.7C263.1 465.6 264.1 464.8 268.6 462.9C273.1 461.0 281.0 457.3 287.2 455.4C293.4 453.5 299.7 452.8 305.9 451.7C312.1 450.6 318.3 450.1 324.5 448.9C330.7 447.7 336.9 445.9 343.1 444.3C349.3 442.8 355.5 441.2 361.7 439.6C367.9 438.1 374.0 436.4 380.4 435.0C386.8 433.6 394.8 432.2 399.9 431.2C405.0 430.2 406.7 429.6 411.1 429.1C415.6 428.6 421.4 428.4 426.6 428.3C431.8 428.2 436.9 428.3 442.1 428.3C447.3 428.3 452.4 428.2 457.6 428.3C462.8 428.4 468.0 428.6 473.2 429.1C478.4 429.6 483.5 430.7 488.7 431.4C493.9 432.1 499.0 432.8 504.2 433.3C509.4 433.8 514.3 434.0 520.0 434.5C525.7 435.0 532.4 436.3 538.6 436.1C544.8 435.9 551.0 434.3 557.2 433.4C563.4 432.5 569.7 431.5 575.9 430.6C582.1 429.8 588.3 429.1 594.5 428.3C600.7 427.5 606.9 426.8 613.1 425.9C619.3 425.0 625.5 424.1 631.7 423.1C637.9 422.1 645.7 420.4 650.4 419.9C655.1 419.3 655.3 420.6 660.0 419.8C664.7 419.0 672.4 417.4 678.5 415.3C684.6 413.2 690.8 409.5 696.9 407.4C703.0 405.3 709.2 404.5 715.4 402.9C721.6 401.3 729.1 399.0 733.9 397.7C738.7 396.4 740.0 396.4 744.4 395.0C748.8 393.6 755.4 390.9 760.3 389.0C765.1 387.1 768.2 386.1 773.5 383.7C778.8 381.3 786.2 377.3 791.9 374.4C797.6 371.5 802.5 369.4 807.8 366.5C813.1 363.6 818.3 360.6 823.6 357.3C828.9 354.0 833.7 350.2 839.4 346.7C845.1 343.2 851.7 339.7 857.9 336.2C864.1 332.7 870.7 328.9 876.4 325.6C882.1 322.3 886.9 319.1 892.2 316.4C897.6 313.7 905.8 310.5 908.5 309.3" stroke="#0a8c0a" stroke-width="2.0" fill="none" stroke-linejoin="round" stroke-linecap="round"/>
<path d="M2.0 436.3C3.7 436.0 8.8 435.0 12.4 434.3C16.0 433.6 20.2 432.3 23.3 431.9C26.4 431.5 28.4 432.7 31.0 431.9C33.6 431.1 35.9 428.5 38.8 427.3C41.6 426.1 45.5 424.8 48.1 424.5C50.7 424.2 52.0 425.1 54.3 425.4C56.6 425.7 59.2 426.1 62.1 426.5C65.0 426.9 68.3 427.0 71.4 428.0C74.5 429.0 77.6 431.0 80.7 432.7C83.8 434.4 86.8 436.4 90.0 438.1C93.2 439.8 96.9 441.3 100.0 443.1C103.1 444.9 106.1 446.8 108.7 449.0C111.3 451.2 112.9 454.2 115.5 456.3C118.1 458.4 121.6 460.1 124.2 461.6C126.8 463.2 128.6 464.3 131.0 465.6C133.4 466.9 136.2 468.2 138.8 469.5C141.4 470.8 144.0 472.2 146.6 473.4C149.2 474.6 151.7 475.5 154.3 476.5C156.9 477.5 159.5 478.7 162.1 479.6C164.7 480.5 167.3 481.0 169.9 481.9C172.5 482.8 175.0 484.0 177.6 485.0C180.2 486.0 182.8 487.3 185.4 488.1C188.0 488.9 190.6 489.5 193.2 490.0C195.8 490.5 198.3 490.6 200.9 491.2C203.5 491.8 206.1 492.7 208.7 493.6C211.3 494.5 213.9 495.9 216.5 496.7C219.1 497.5 221.9 498.3 224.2 498.7C226.5 499.1 227.6 499.6 230.4 499.0C233.2 498.4 237.5 496.4 240.8 495.2C244.1 494.0 246.8 493.2 250.0 491.7C253.2 490.1 256.9 488.1 260.0 485.9C263.1 483.7 264.1 482.4 268.6 478.7C273.1 475.0 281.0 468.4 287.2 463.8C293.4 459.2 299.7 455.2 305.9 450.8C312.1 446.4 318.3 441.7 324.5 437.7C330.7 433.7 336.9 430.5 343.1 426.6C349.3 422.7 355.5 418.6 361.7 414.5C367.9 410.4 374.0 406.0 380.4 402.3C386.8 398.6 394.8 393.9 399.9 392.1C405.0 390.4 406.7 392.0 411.1 391.8C415.6 391.6 421.4 390.9 426.6 390.7C431.8 390.5 438.2 390.4 442.1 390.7C446.0 391.0 447.3 391.8 449.9 392.6C452.5 393.4 455.0 394.6 457.6 395.4C460.2 396.2 462.3 396.5 465.4 397.3C468.5 398.1 472.4 399.6 476.3 400.1C480.2 400.6 484.8 400.5 488.7 400.4C492.6 400.3 495.7 399.5 499.6 399.6C503.5 399.7 508.6 400.4 512.0 401.1C515.4 401.8 517.1 402.8 520.0 403.6C522.9 404.4 525.6 405.2 529.3 406.0C533.0 406.8 538.6 408.2 542.3 408.6C546.0 409.0 547.7 408.7 551.7 408.6C555.8 408.5 561.6 408.1 566.6 407.8C571.6 407.5 577.5 407.4 581.5 406.7C585.5 406.0 587.1 404.3 590.8 403.6C594.5 402.9 600.1 402.8 603.8 402.3C607.5 401.8 610.0 401.5 613.1 400.8C616.2 400.1 619.3 399.2 622.4 398.0C625.5 396.8 628.6 395.6 631.7 393.3C634.8 391.1 638.5 386.9 641.0 384.5C643.5 382.1 644.0 381.9 646.8 379.2C649.6 376.4 654.5 371.4 657.9 368.0C661.3 364.6 663.8 362.1 667.2 358.7C670.6 355.3 675.3 351.2 678.4 347.5C681.5 343.8 683.1 340.6 685.9 336.4C688.7 332.2 692.1 326.8 695.2 322.4C698.3 318.0 701.4 313.7 704.5 310.3C707.6 306.9 710.7 304.7 713.8 301.9C716.9 299.1 720.4 295.8 723.1 293.5C725.8 291.2 727.0 290.1 730.0 287.9C733.0 285.7 737.3 283.2 740.9 280.1C744.5 277.0 748.4 272.8 751.8 269.2C755.2 265.6 758.0 262.7 761.1 258.3C764.2 253.9 767.3 247.7 770.4 242.8C773.5 237.9 776.7 233.5 779.8 228.8C782.9 224.1 785.7 219.5 789.1 214.8C792.5 210.1 796.9 204.8 800.0 200.8C803.1 196.8 805.2 193.8 807.8 190.7C810.4 187.6 812.9 184.9 815.5 182.2C818.1 179.5 820.7 176.7 823.3 174.4C825.9 172.1 828.5 170.3 831.1 168.2C833.7 166.1 836.2 164.1 838.8 162.0C841.4 159.9 844.0 157.8 846.6 155.8C849.2 153.8 851.7 151.7 854.3 150.1C856.9 148.5 859.5 147.2 862.1 146.0C864.7 144.8 867.3 143.8 869.9 142.9C872.5 142.0 875.0 141.4 877.6 140.3C880.2 139.2 882.8 137.5 885.4 136.1C888.0 134.7 890.6 133.3 893.2 131.7C895.8 130.1 898.3 128.1 900.9 126.3C903.5 124.5 907.4 121.8 908.7 120.9" stroke="#0a0af5" stroke-width="2.1" fill="none" stroke-linejoin="round" stroke-linecap="round"/>
<path d="M2.0 409.0C3.2 410.1 7.1 413.6 9.3 415.6C11.6 417.6 13.4 419.3 15.5 421.0C17.6 422.7 19.1 425.1 21.7 426.0C24.3 426.9 28.4 426.9 31.0 426.5C33.6 426.1 35.5 424.0 37.3 423.4C39.1 422.8 40.3 422.6 41.9 422.6C43.5 422.6 44.8 422.4 46.6 423.4C48.4 424.4 50.7 426.1 52.8 428.8C54.9 431.5 56.9 436.6 59.0 439.7C61.1 442.8 62.9 445.1 65.2 447.5C67.5 449.9 70.4 451.8 73.0 454.4C75.6 457.0 78.1 460.3 80.7 463.0C83.3 465.7 85.9 467.9 88.5 470.7C91.1 473.5 94.4 477.7 96.3 480.0C98.2 482.3 98.1 481.9 100.0 484.3C101.9 486.7 105.2 490.3 107.8 494.3C110.4 498.3 112.9 504.1 115.5 508.3C118.1 512.5 120.7 517.7 123.3 519.2C125.9 520.8 128.4 518.4 131.0 517.6C133.6 516.8 136.2 514.1 138.8 514.5C141.4 514.9 144.0 519.6 146.6 520.0C149.2 520.4 151.7 518.3 154.3 516.9C156.9 515.5 159.5 513.4 162.1 511.4C164.7 509.4 167.3 507.3 169.9 505.2C172.5 503.1 175.0 500.8 177.6 499.0C180.2 497.2 182.8 495.5 185.4 494.3C188.0 493.1 190.6 492.4 193.2 492.0C195.8 491.6 198.3 492.2 200.9 492.0C203.5 491.8 206.1 491.2 208.7 490.5C211.3 489.8 213.9 488.8 216.5 487.5C219.1 486.2 221.6 484.1 224.2 482.5C226.8 480.9 229.4 479.6 232.0 478.0C234.6 476.4 237.2 473.6 240.0 472.6C242.8 471.6 247.0 472.2 248.7 472.0C250.4 471.8 248.2 473.5 250.0 471.2C251.8 468.9 256.2 462.8 259.3 458.2C262.4 453.6 265.5 448.4 268.6 443.3C271.7 438.2 274.8 432.8 277.9 427.5C281.0 422.2 284.1 415.7 287.2 411.7C290.3 407.7 293.5 405.2 296.6 403.3C299.7 401.4 302.8 401.6 305.9 400.5C309.0 399.4 312.1 398.8 315.2 396.8C318.3 394.8 321.4 390.6 324.5 388.4C327.6 386.2 330.7 384.9 333.8 383.7C336.9 382.5 340.2 381.5 343.1 381.0C346.0 380.5 348.1 380.5 350.9 380.7C353.6 380.9 356.7 382.4 359.6 382.2C362.5 382.0 364.9 380.6 368.3 379.6C371.7 378.6 376.8 377.2 380.0 376.3C383.2 375.4 385.2 374.6 387.8 374.0C390.4 373.4 393.4 372.5 395.5 372.4C397.6 372.3 398.6 372.4 400.2 373.2C401.8 374.0 403.0 375.4 404.8 377.1C406.6 378.8 408.8 381.1 411.1 383.3C413.4 385.5 416.2 387.9 418.8 390.3C421.4 392.8 424.0 395.6 426.6 398.0C429.2 400.4 431.7 402.9 434.3 405.0C436.9 407.1 439.5 408.9 442.1 410.5C444.7 412.1 447.3 412.9 449.9 414.3C452.5 415.7 455.0 417.8 457.6 419.0C460.2 420.2 462.8 420.5 465.4 421.3C468.0 422.1 470.9 423.4 473.2 423.7C475.5 424.0 476.8 423.7 479.4 422.9C482.0 422.1 485.8 420.0 488.7 419.0C491.6 418.0 493.9 417.5 496.5 416.7C499.1 415.9 501.6 414.8 504.2 414.3C506.8 413.8 509.4 413.8 512.0 413.6C514.6 413.4 517.1 413.8 520.0 412.9C522.9 412.0 526.2 409.1 529.3 408.2C532.4 407.3 535.5 408.4 538.6 407.3C541.7 406.2 544.8 403.2 547.9 401.7C551.0 400.1 554.1 399.1 557.2 398.0C560.3 396.9 563.5 396.1 566.6 395.2C569.7 394.3 572.8 393.5 575.9 392.4C579.0 391.3 582.1 390.2 585.2 388.7C588.3 387.1 591.4 384.0 594.5 383.1C597.6 382.2 600.7 383.3 603.8 383.1C606.9 382.9 610.6 382.6 613.1 382.1C615.6 381.6 616.2 380.4 618.7 379.9C621.2 379.4 624.9 381.4 628.0 379.3C631.1 377.2 634.9 370.4 637.4 367.1C639.9 363.8 641.1 362.4 643.0 359.5C644.9 356.6 646.4 353.6 648.6 349.4C650.8 345.2 653.6 339.5 656.1 334.5C658.6 329.5 661.0 324.9 663.5 319.6C666.0 314.3 668.8 308.1 671.0 302.8C673.2 297.5 674.8 293.2 676.6 287.9C678.5 282.6 679.9 277.7 682.1 271.2C684.3 264.7 687.4 255.8 689.7 249.0C692.0 242.2 693.8 236.3 695.9 230.4C698.0 224.5 700.0 217.7 702.1 213.3C704.2 208.9 706.2 206.2 708.3 204.0C710.4 201.8 712.4 200.9 714.5 200.1C716.6 199.3 718.6 199.2 720.7 199.3C722.8 199.4 724.4 200.2 727.0 200.9C729.6 201.6 733.2 203.1 736.3 203.7C739.4 204.3 742.5 204.6 745.6 204.3C748.7 204.0 751.8 202.9 754.9 202.1C758.0 201.3 761.4 200.5 764.2 199.3C767.1 198.1 769.4 197.0 772.0 194.7C774.6 192.4 776.9 189.5 779.9 185.5C782.9 181.5 786.5 175.8 789.9 170.6C793.2 165.4 797.0 158.5 800.0 154.3C803.0 150.2 805.2 148.8 807.8 145.7C810.4 142.6 812.9 139.1 815.5 135.6C818.1 132.1 821.0 127.6 823.3 124.8C825.6 122.0 826.9 120.1 829.5 118.5C832.1 116.9 835.9 116.6 838.8 115.4C841.6 114.2 844.8 112.5 846.6 111.6C848.4 110.6 847.8 110.9 849.5 109.7C851.2 108.5 853.7 106.6 857.0 104.5C860.3 102.4 865.7 100.0 869.4 97.3C873.1 94.6 876.4 90.7 879.3 88.6C882.2 86.5 883.7 85.1 886.6 84.7C889.5 84.3 893.8 85.2 896.7 86.1C899.6 87.0 902.2 89.4 904.2 90.3C906.2 91.2 908.2 91.0 909.0 91.2" stroke="#960a0a" stroke-width="1.6" fill="none" stroke-linejoin="round" stroke-linecap="round"/>
</svg></body></html>
